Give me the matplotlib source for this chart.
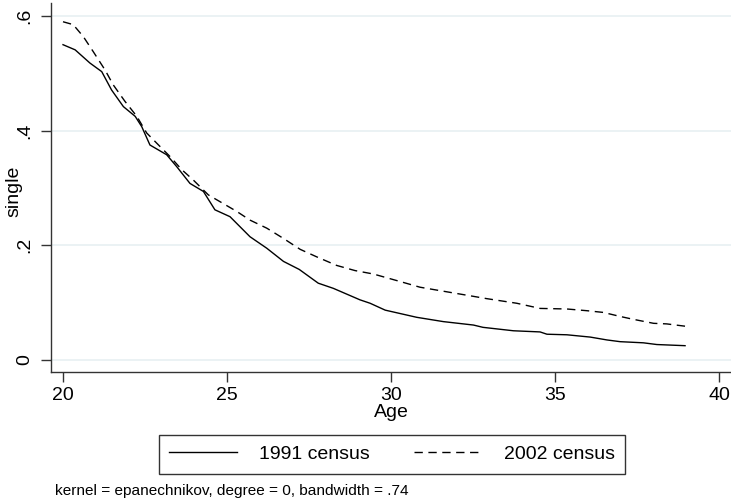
import matplotlib
matplotlib.use("Agg")
import matplotlib.pyplot as plt

plt.rcParams['font.family'] = ['Liberation Sans Narrow', 'Liberation Sans', 'DejaVu Sans']

# 1991 census smoothed share single, by age
age_1991 = [20.0, 20.37, 20.82, 21.18, 21.48, 21.84, 22.2, 22.4, 22.65, 23.16, 23.47,
            23.87, 24.28, 24.63, 25.09, 25.7, 26.21, 26.72, 27.2, 27.78, 28.24, 29.05,
            29.36, 29.82, 30.78, 31.59, 32.51, 32.8, 33.73, 34.54, 34.75, 35.36,
            36.07, 36.58, 36.98, 37.69, 38.1, 38.96]
single_1991 = [0.550, 0.541, 0.518, 0.503, 0.471, 0.442, 0.425, 0.407, 0.375, 0.358, 0.337,
               0.308, 0.294, 0.262, 0.250, 0.215, 0.195, 0.172, 0.158, 0.134, 0.125, 0.105,
               0.099, 0.087, 0.0745, 0.067, 0.061, 0.057, 0.051, 0.049, 0.045, 0.044,
               0.040, 0.035, 0.032, 0.030, 0.027, 0.025]

# 2002 census
age_2002 = [20.0, 20.31, 20.62, 20.92, 21.28, 21.53, 21.89, 22.25, 22.55, 22.86, 23.26,
            23.62, 23.97, 24.43, 24.79, 25.3, 25.7, 26.21, 26.72, 27.23, 27.73, 28.34,
            28.9, 29.46, 30.27, 30.88, 31.49, 32.31, 32.92, 33.83, 34.54, 35.36, 35.97,
            36.47, 36.98, 37.38, 38.0, 38.4, 38.96]
single_2002 = [0.590, 0.585, 0.564, 0.538, 0.506, 0.480, 0.451, 0.425, 0.396, 0.378, 0.355,
               0.332, 0.314, 0.288, 0.276, 0.259, 0.244, 0.230, 0.212, 0.193, 0.180, 0.165,
               0.156, 0.150, 0.137, 0.127, 0.121, 0.113, 0.107, 0.099, 0.090, 0.089, 0.086,
               0.083, 0.076, 0.071, 0.064, 0.063, 0.059]

x_ticks = [20, 25, 30, 35, 40]
y_ticks = [0, 0.2, 0.4, 0.6]
y_ticklabels = ['0', '.2', '.4', '.6']

fig = plt.figure(figsize=(7.31, 5.04), dpi=100)
ax = fig.add_axes([51 / 731, 132 / 504, 680 / 731, 369 / 504])

ax.plot(age_1991, single_1991, color='black', lw=1.0, label='1991 census')
ax.plot(age_2002, single_2002, color='black', lw=1.0, dashes=(6, 4), label='2002 census')

ax.set_xlim(19.634, 40.36)
ax.set_ylim(-0.0209, 0.6227)
ax.set_xticks(x_ticks)
ax.set_yticks(y_ticks)
ax.set_yticklabels(y_ticklabels, rotation=90, va='center')
ax.tick_params(axis='both', labelsize=14, length=7, width=1, color='#333333')
ax.tick_params(axis='y', pad=6)
ax.grid(axis='y', color='#e8f0f2', lw=1.2)
ax.set_axisbelow(True)
for side in ['top', 'right']:
    ax.spines[side].set_visible(False)
for side in ['left', 'bottom']:
    ax.spines[side].set_color('#333333')
    ax.spines[side].set_linewidth(1.0)

ax.set_xlabel('Age', fontsize=14, labelpad=0)
ax.set_ylabel('single', fontsize=14)
ax.yaxis.set_label_coords(-0.042, 0.49)

leg = fig.legend(loc='center', bbox_to_anchor=(392 / 731, 1 - 454 / 504), ncol=2,
                 fontsize=14, frameon=True, fancybox=False, edgecolor='black',
                 handlelength=3.5, handletextpad=1.1, columnspacing=2.3,
                 borderpad=0.55)
leg.get_frame().set_linewidth(1.0)

fig.text(55 / 731, 1 - 491 / 504, 'kernel = epanechnikov, degree = 0, bandwidth = .74',
         fontsize=11.1, va='center', ha='left')

fig.savefig('out.png', dpi=100)
